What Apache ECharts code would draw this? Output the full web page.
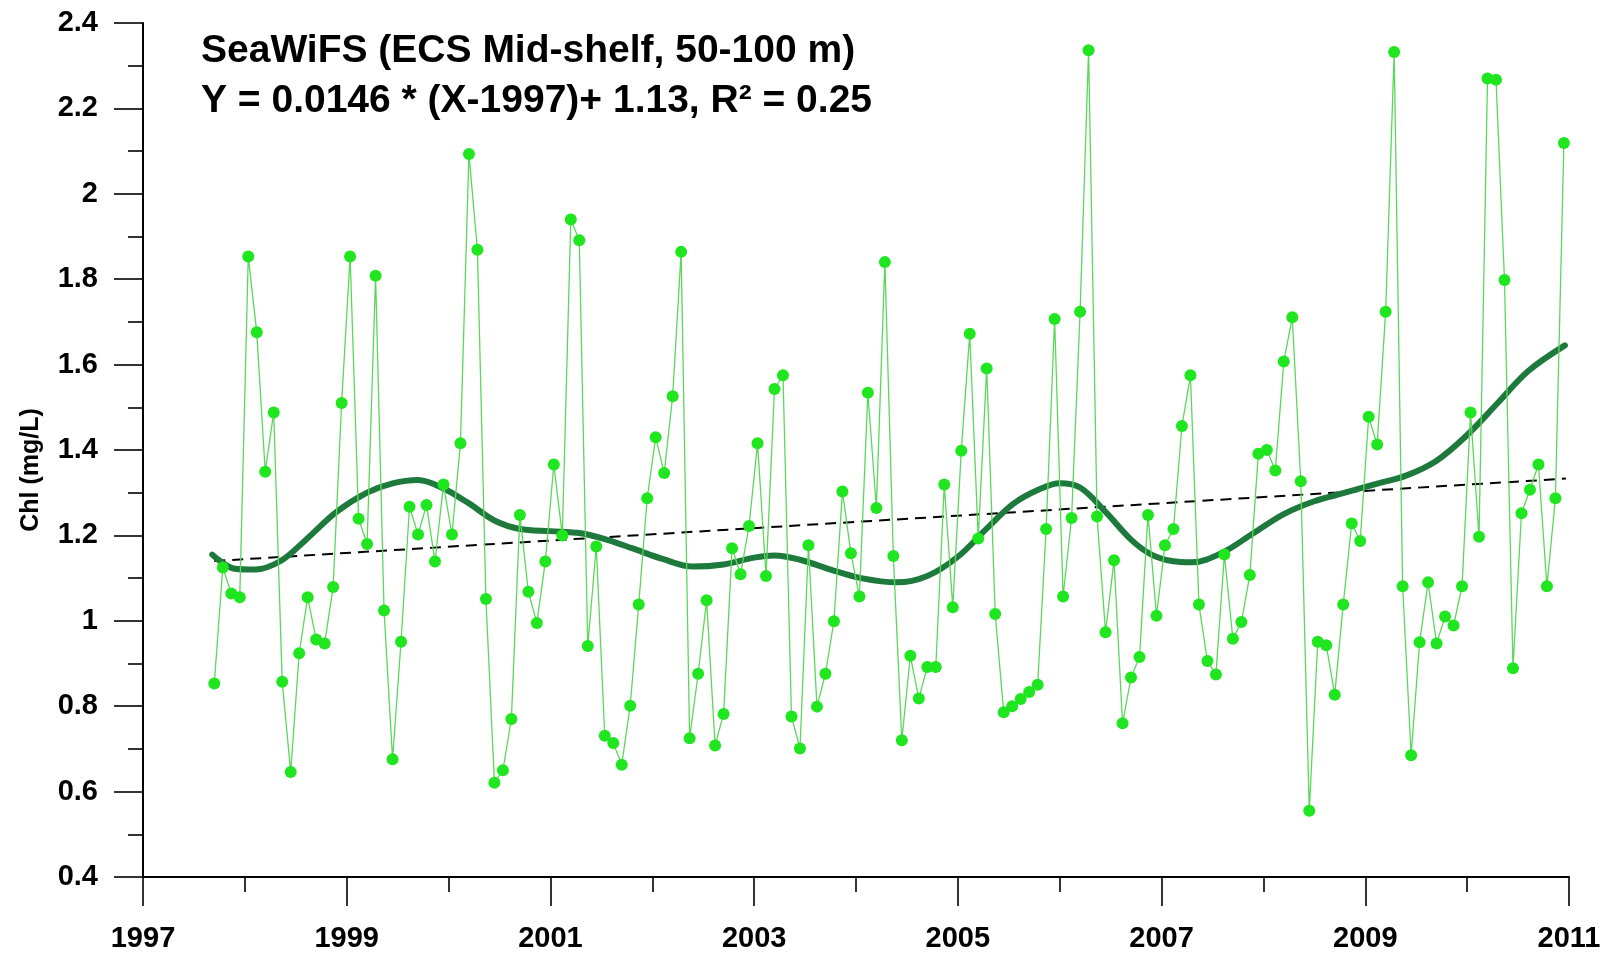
<!DOCTYPE html>
<html>
<head>
<meta charset="utf-8">
<title>SeaWiFS Chl — ECS Mid-shelf</title>
<script src="https://cdn.jsdelivr.net/npm/echarts@6/dist/echarts.min.js"></script>
<style>
  html, body { margin: 0; padding: 0; background: #fff; }
  #chart { width: 1608px; height: 953px; }
</style>
</head>
<body>
<div id="chart"></div>
<script>
// Monthly mean chlorophyll (mg/L), SeaWiFS, ECS mid-shelf (50-100 m)
// 1997 starts in September; all other years run January..December.
const startYear = 1997;
const startMonth = 9;
const chl1997 = [0.853, 1.125, 1.064, 1.055];
const chl1998 = [1.853, 1.676, 1.349, 1.488, 0.857, 0.646, 0.924, 1.055, 0.956, 0.947, 1.079, 1.510];
const chl1999 = [1.853, 1.239, 1.180, 1.808, 1.024, 0.676, 0.951, 1.267, 1.202, 1.271, 1.139, 1.319];
const chl2000 = [1.202, 1.416, 2.093, 1.869, 1.051, 0.621, 0.650, 0.770, 1.248, 1.068, 0.995, 1.139];
const chl2001 = [1.366, 1.200, 1.940, 1.891, 0.941, 1.174, 0.731, 0.714, 0.663, 0.801, 1.038, 1.287];
const chl2002 = [1.430, 1.346, 1.526, 1.864, 0.725, 0.876, 1.048, 0.708, 0.782, 1.170, 1.109, 1.222];
const chl2003 = [1.416, 1.105, 1.543, 1.575, 0.776, 0.701, 1.177, 0.799, 0.876, 0.999, 1.303, 1.158];
const chl2004 = [1.057, 1.534, 1.264, 1.840, 1.152, 0.720, 0.918, 0.818, 0.892, 0.892, 1.319, 1.032];
const chl2005 = [1.398, 1.672, 1.193, 1.591, 1.016, 0.786, 0.800, 0.817, 0.833, 0.850, 1.215, 1.707];
const chl2006 = [1.057, 1.241, 1.724, 2.336, 1.244, 0.973, 1.142, 0.760, 0.867, 0.915, 1.248, 1.012];
const chl2007 = [1.177, 1.215, 1.456, 1.575, 1.038, 0.906, 0.874, 1.155, 0.958, 0.997, 1.107, 1.391];
const chl2008 = [1.400, 1.352, 1.607, 1.711, 1.327, 0.555, 0.951, 0.943, 0.827, 1.038, 1.228, 1.187];
const chl2009 = [1.478, 1.413, 1.724, 2.332, 1.081, 0.685, 0.950, 1.090, 0.947, 1.010, 0.989, 1.081];
const chl2010 = [1.488, 1.197, 2.270, 2.267, 1.798, 0.889, 1.252, 1.307, 1.366, 1.081, 1.287, 2.119];

// Smoothed (LOESS-type) curve, [decimal year, Chl]
const smoothYears = [1997.68, 1997.9, 1998.1, 1998.35, 1998.6, 1998.9, 1999.2, 1999.45, 1999.7, 1999.95,
  2000.2, 2000.45, 2000.7, 2001.0, 2001.3, 2001.55, 2001.8, 2002.1, 2002.4, 2002.7,
  2003.0, 2003.2, 2003.45, 2003.75, 2004.05, 2004.4, 2004.7, 2005.0, 2005.3, 2005.55,
  2005.8, 2006.0, 2006.2, 2006.45, 2006.7, 2006.9, 2007.1, 2007.3, 2007.6, 2007.9, 2008.2,
  2008.5, 2008.8, 2009.1, 2009.4, 2009.7, 2010.0, 2010.3, 2010.6, 2010.96];
const smoothChl = [1.155, 1.122, 1.120, 1.140, 1.190, 1.255, 1.300, 1.322, 1.330, 1.310,
  1.275, 1.235, 1.215, 1.210, 1.205, 1.190, 1.170, 1.145, 1.127, 1.132,
  1.148, 1.153, 1.143, 1.120, 1.100, 1.090, 1.105, 1.150, 1.220, 1.275,
  1.308, 1.322, 1.312, 1.255, 1.190, 1.155, 1.140, 1.137, 1.160, 1.205, 1.250,
  1.280, 1.300, 1.320, 1.340, 1.375, 1.435, 1.510, 1.585, 1.645];

// Linear trend end points, [decimal year, Chl]
const trendYears = [1997.7, 2010.97];
const trendChl = [1.140, 1.333];

const titleLines = [
  'SeaWiFS (ECS Mid-shelf, 50-100 m)',
  'Y = 0.0146 * (X-1997)+ 1.13, R\u00B2 = 0.25'
];
const yAxisTitle = 'Chl (mg/L)';

// Assemble the monthly series with mid-month decimal-year positions
const yearly = [chl1997, chl1998, chl1999, chl2000, chl2001, chl2002, chl2003,
  chl2004, chl2005, chl2006, chl2007, chl2008, chl2009, chl2010];
const monthly = [];
yearly.forEach(function (vals, i) {
  const yr = startYear + i;
  const first = (i === 0) ? startMonth - 1 : 0;
  vals.forEach(function (v, k) {
    monthly.push([yr + (first + k + 0.4) / 12, v]);
  });
});
const smoothData = smoothYears.map(function (x, i) { return [x, smoothChl[i]]; });
const trendData = trendYears.map(function (x, i) { return [x, trendChl[i]]; });

const FONT = "'Liberation Sans', Arial, sans-serif";
const chart = echarts.init(document.getElementById('chart'), null, { renderer: 'canvas' });

const axisCommon = {
  type: 'value',
  axisLine: { show: true, onZero: false, lineStyle: { color: '#000', width: 2 } },
  axisTick: { show: true, inside: false, length: 29, lineStyle: { color: '#000', width: 1.6 } },
  minorTick: { show: true, splitNumber: 2, length: 15, lineStyle: { color: '#000', width: 1.6 } },
  splitLine: { show: false },
  minorSplitLine: { show: false }
};

chart.setOption({
  animation: false,
  backgroundColor: '#ffffff',
  grid: { left: 143, right: 39, top: 23, bottom: 74, containLabel: false },
  xAxis: Object.assign({}, axisCommon, {
    min: 1997, max: 2011, interval: 2,
    axisLabel: {
      color: '#000', fontSize: 29, fontWeight: 'bold', fontFamily: FONT, margin: 47,
      showMinLabel: true, showMaxLabel: true,
      formatter: function (v) { return String(Math.round(v)); }
    }
  }),
  yAxis: Object.assign({}, axisCommon, {
    min: 0.4, max: 2.4, interval: 0.2,
    axisLabel: {
      color: '#000', fontSize: 29, fontWeight: 'bold', fontFamily: FONT, margin: 45,
      formatter: function (v) { return String(parseFloat(v.toFixed(1))); }
    }
  }),
  graphic: [
    {
      type: 'text', left: 201, top: 26,
      style: {
        text: titleLines.join('\n'), fill: '#000',
        fontSize: 39, fontWeight: 'bold', fontFamily: FONT, lineHeight: 50
      }
    },
    {
      type: 'text', x: 31, y: 470, rotation: Math.PI / 2,
      style: {
        text: yAxisTitle, fill: '#000', align: 'center', verticalAlign: 'middle',
        fontSize: 25, fontWeight: 'bold', fontFamily: FONT
      }
    }
  ],
  series: [
    {
      name: 'trend', type: 'line', data: trendData, showSymbol: false, z: 2,
      lineStyle: { color: '#000', width: 2, type: [11, 7] }
    },
    {
      name: 'smooth', type: 'line', data: smoothData, showSymbol: false, smooth: 0.35, z: 3,
      lineStyle: { color: '#1e7a3c', width: 6, cap: 'round' }
    },
    {
      name: 'Chl', type: 'line', data: monthly, z: 4,
      symbol: 'circle', symbolSize: 12, showSymbol: true,
      lineStyle: { color: '#5ad85a', width: 1.3 },
      itemStyle: { color: '#1fe61f', borderWidth: 0 }
    }
  ]
});
</script>
</body>
</html>
